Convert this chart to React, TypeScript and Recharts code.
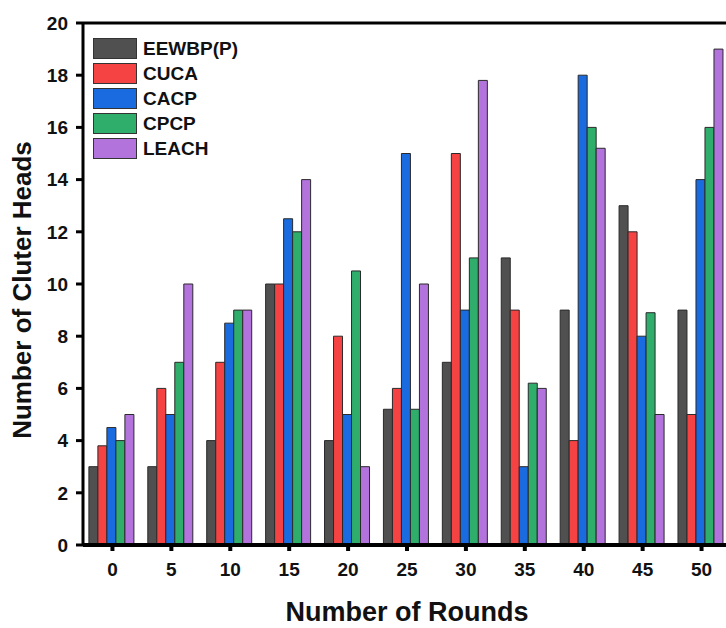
import { BarChart, Bar, XAxis, YAxis, ReferenceLine } from 'recharts'

const rounds = ['0', '5', '10', '15', '20', '25', '30', '35', '40', '45', '50']
const eewbp = [3, 3, 4, 10, 4, 5.2, 7, 11, 9, 13, 9]
const cuca = [3.8, 6, 7, 10, 8, 6, 15, 9, 4, 12, 5]
const cacp = [4.5, 5, 8.5, 12.5, 5, 15, 9, 3, 18, 8, 14]
const cpcp = [4, 7, 9, 12, 10.5, 5.2, 11, 6.2, 16, 8.9, 16]
const leach = [5, 10, 9, 14, 3, 10, 17.8, 6, 15.2, 5, 19]
const yTicks = [0, 2, 4, 6, 8, 10, 12, 14, 16, 18, 20]

const SERIES = [
  { key: 'EEWBP(P)', values: eewbp, color: '#505050' },
  { key: 'CUCA', values: cuca, color: '#F54242' },
  { key: 'CACP', values: cacp, color: '#1A6BE0' },
  { key: 'CPCP', values: cpcp, color: '#2EAD6B' },
  { key: 'LEACH', values: leach, color: '#B373DD' },
]

const data = rounds.map((r, i) => {
  const row: { [key: string]: string | number } = { round: r }
  SERIES.forEach(s => { row[s.key] = s.values[i] })
  return row
})

const FONT = '"Liberation Sans", Arial, sans-serif'

// legend sits over the plot, drawn as html so it doesn't eat chart space
const LegendBox = () => (
  <div style={{ position: 'absolute', left: 93, top: 36, fontFamily: FONT }}>
    {SERIES.map(s => (
      <div key={s.key} style={{ display: 'flex', alignItems: 'center', height: 25 }}>
        <div style={{ width: 42, height: 19, background: s.color, border: '1px solid #333', marginRight: 6 }} />
        <span style={{ fontSize: 19, fontWeight: 'bold', color: '#111' }}>{s.key}</span>
      </div>
    ))}
  </div>
)

const YTitle = (props: any) => {
  const vb = props.viewBox || {}
  const cy = vb.y + vb.height / 2 + 6
  return (
    <text
      x={22}
      y={cy}
      transform={`rotate(-90, 22, ${cy})`}
      textAnchor="middle"
      dominantBaseline="central"
      fontSize={26}
      fontWeight="bold"
      fontFamily={FONT}
      fill="#111"
    >
      Number of Cluter Heads
    </text>
  )
}

export default function App() {
  return (
    <div style={{ position: 'absolute', left: 0, top: 0, width: 726, height: 628, overflow: 'hidden', background: '#fff' }}>
      <BarChart
        width={740}
        height={628}
        data={data}
        margin={{ top: 23, right: 9, left: 0, bottom: 0 }}
        barCategoryGap="10%"
        barGap={0}
      >
        <XAxis
          dataKey="round"
          height={83}
          tickSize={6}
          tickMargin={12}
          axisLine={{ stroke: '#000', strokeWidth: 4 }}
          tickLine={{ stroke: '#000', strokeWidth: 4 }}
          tick={{ fontSize: 19, fontWeight: 'bold', fill: '#111', fontFamily: FONT }}
          label={{ value: 'Number of Rounds', position: 'insideBottom', offset: 7, fontSize: 27, fontWeight: 'bold', fill: '#111', fontFamily: FONT }}
        />
        <YAxis
          width={83}
          domain={[0, 20]}
          ticks={yTicks}
          interval={0}
          tickSize={7}
          tickMargin={8}
          axisLine={{ stroke: '#000', strokeWidth: 3 }}
          tickLine={{ stroke: '#000', strokeWidth: 3 }}
          tick={{ fontSize: 19, fontWeight: 'bold', fill: '#111', fontFamily: FONT }}
          label={<YTitle />}
        />
        <ReferenceLine y={20} stroke="#000" strokeWidth={3} />
        {SERIES.map(s => (
          <Bar key={s.key} dataKey={s.key} fill={s.color} stroke="#2a2a2a" strokeWidth={1} isAnimationActive={false} />
        ))}
      </BarChart>
      <LegendBox />
    </div>
  )
}
